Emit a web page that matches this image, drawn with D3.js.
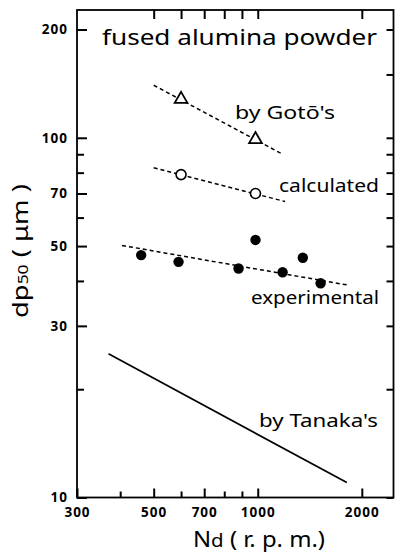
<!DOCTYPE html>
<html>
<head>
<meta charset="utf-8">
<script src="https://cdn.jsdelivr.net/npm/d3@7"></script>
<style>
  body { margin: 0; background: #fff; }
  svg { display: block; }
</style>
</head>
<body>
<main></main>
<script>
// values (Nd in r.p.m., dp50 in um)
const gotoN = [600, 985];
const gotoDp = [128, 99];
const gotoLineN = [500, 1180];
const gotoLineDp = [140, 90];

const calcN = [600, 985];
const calcDp = [79, 70];
const calcLineN = [500, 1200];
const calcLineDp = [82.5, 66.5];

const expN = [460, 590, 880, 985, 1180, 1350, 1520];
const expDp = [47.2, 45.2, 43.3, 52, 42.3, 46.4, 39.4];
const expLineN = [405, 1810];
const expLineDp = [50.2, 39];

const tanakaN = [370, 1810];
const tanakaDp = [25.1, 11];

const xTickLabels = [300, 500, 700, 1000, 2000];
const xMinorTicks = [400, 600, 800, 900];
const xTopTicks = [500, 600, 700, 800, 900, 1000, 2000];
const yTickLabels = [10, 30, 50, 70, 100, 200];
const yMinorTicks = [20, 40, 60, 80, 90];

let zip = (a, b) => a.map((v, i) => [v, b[i]]);

let drawChart = (w = 395, h = 552) => {
	const margin = ({top: 10, right: 1.5, bottom: 54.5, left: 77});
	const font = "'Noto Sans', sans-serif";

	let x = d3.scaleLog()
		.domain([300, 2470])
		.range([margin.left, w - margin.right]);

	let y = d3.scaleLog()
		.domain([10, 226.6])
		.range([h - margin.bottom, margin.top]);

	let svg = d3.select("main")
		.append("svg")
		.attr("width", w)
		.attr("height", h);

	// frame
	svg.append("rect")
		.attr("x", margin.left)
		.attr("y", margin.top)
		.attr("width", w - margin.left - margin.right)
		.attr("height", h - margin.top - margin.bottom)
		.attr("fill", "none")
		.attr("stroke", "#000")
		.attr("stroke-width", 1.8);

	let styleAxis = g => {
		g.select(".domain").remove();
		g.selectAll(".tick line").attr("stroke", "#000").attr("stroke-width", 2);
		g.selectAll(".tick text")
			.attr("fill", "#000")
			.attr("font-family", font)
			.attr("font-weight", "bold")
			.attr("font-size", 13.5)
			.attr("letter-spacing", 1);
	};

	// bottom axis, ticks pointing in
	svg.append("g")
		.attr("transform", `translate(0,${h - margin.bottom})`)
		.call(d3.axisBottom(x).tickValues(xTickLabels).tickFormat(d3.format("d")).tickSize(-9).tickPadding(10))
		.call(styleAxis);
	svg.append("g")
		.attr("transform", `translate(0,${h - margin.bottom})`)
		.call(d3.axisBottom(x).tickValues(xMinorTicks).tickFormat("").tickSize(-6))
		.call(styleAxis);

	// top axis
	svg.append("g")
		.attr("transform", `translate(0,${margin.top})`)
		.call(d3.axisTop(x).tickValues(xTopTicks).tickFormat("").tickSize(-9))
		.call(styleAxis);

	// left axis
	svg.append("g")
		.attr("transform", `translate(${margin.left},0)`)
		.call(d3.axisLeft(y).tickValues(yTickLabels).tickFormat(d3.format("d")).tickSize(-10).tickPadding(9))
		.call(styleAxis);
	svg.append("g")
		.attr("transform", `translate(${margin.left},0)`)
		.call(d3.axisLeft(y).tickValues(yMinorTicks).tickFormat("").tickSize(-7))
		.call(styleAxis);

	// right axis
	svg.append("g")
		.attr("transform", `translate(${w - margin.right},0)`)
		.call(d3.axisRight(y).tickValues(yTickLabels.concat(yMinorTicks, [150])).tickFormat("").tickSize(-7))
		.call(styleAxis);

	let line = d3.line()
		.x(d => x(d[0]))
		.y(d => y(d[1]));

	let drawLine = (pts, dashed) => {
		svg.append("path")
			.datum(pts)
			.attr("d", line)
			.attr("fill", "none")
			.attr("stroke", "#000")
			.attr("stroke-width", dashed ? 1.5 : 1.7)
			.attr("stroke-dasharray", dashed ? "4,3" : null);
	};

	drawLine(zip(gotoLineN, gotoLineDp), true);
	drawLine(zip(calcLineN, calcLineDp), true);
	drawLine(zip(expLineN, expLineDp), true);
	drawLine(zip(tanakaN, tanakaDp), false);

	// triangles
	svg.append("g")
		.selectAll("path")
		.data(zip(gotoN, gotoDp))
		.join("path")
			.attr("transform", d => `translate(${x(d[0])},${y(d[1])})`)
			.attr("d", d3.symbol(d3.symbolTriangle, 70))
			.attr("fill", "#fff")
			.attr("stroke", "#000")
			.attr("stroke-width", 1.8);

	// open circles
	svg.append("g")
		.selectAll("circle")
		.data(zip(calcN, calcDp))
		.join("circle")
			.attr("cx", d => x(d[0]))
			.attr("cy", d => y(d[1]))
			.attr("r", 5)
			.attr("fill", "#fff")
			.attr("stroke", "#000")
			.attr("stroke-width", 1.6);

	// filled circles
	svg.append("g")
		.selectAll("circle")
		.data(zip(expN, expDp))
		.join("circle")
			.attr("cx", d => x(d[0]))
			.attr("cy", d => y(d[1]))
			.attr("r", 5.2)
			.attr("fill", "#000");

	let label = (txt, px, py, size, len) => svg.append("text")
		.attr("x", px)
		.attr("y", py)
		.attr("font-family", font)
		.attr("font-size", size)
		.attr("fill", "#000")
		.attr("textLength", len)
		.attr("lengthAdjust", "spacingAndGlyphs")
		.text(txt);

	label("fused alumina powder", 102, 45, 22, 275);
	label("by Gotō's", 235, 119, 18, 100);
	label("calculated", 279, 192, 18, 100);
	label("experimental", 251, 304, 18, 128);
	label("by Tanaka's", 259, 427, 18, 119);

	// axis titles
	let xt = label("", 193, 547, 21, 132);
	xt.append("tspan").text("N");
	xt.append("tspan").attr("font-size", 18).text("d");
	xt.append("tspan").text(" ( r. p. m.)");

	let yt = svg.append("text")
		.attr("transform", "translate(28,318) rotate(-90)")
		.attr("font-family", font)
		.attr("font-size", 22)
		.attr("fill", "#000")
		.attr("textLength", 134)
		.attr("lengthAdjust", "spacingAndGlyphs");
	yt.append("tspan").text("dp");
	yt.append("tspan").attr("font-size", 14).text("50");
	yt.append("tspan").text(" ( μm )");
};

drawChart();
</script>
</body>
</html>
